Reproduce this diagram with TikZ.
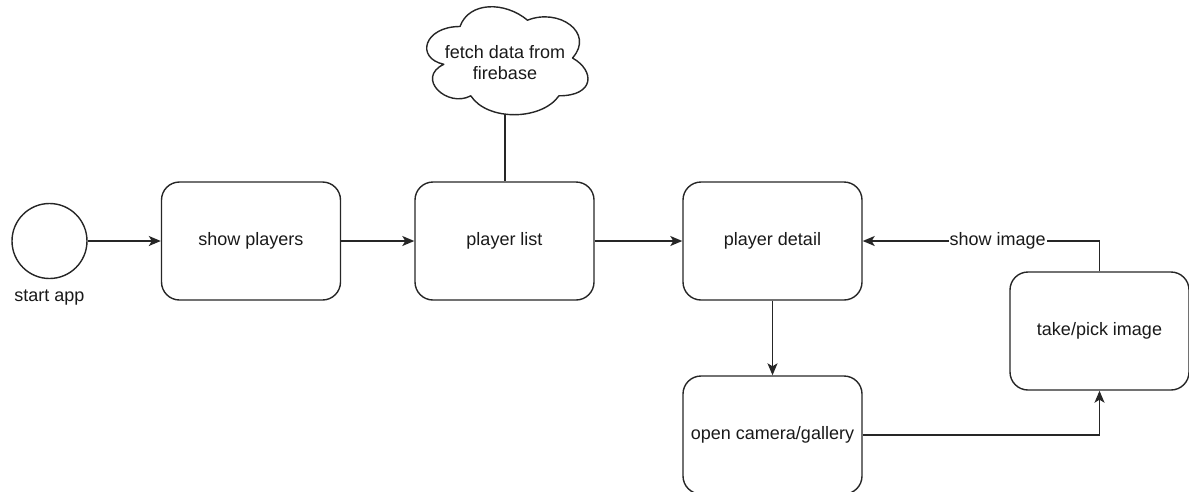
\documentclass[tikz,border=0pt]{standalone}
\usepackage{fontspec}
\setmainfont{Liberation Sans}
\usetikzlibrary{arrows.meta}
\begin{document}
\begin{tikzpicture}[x=1pt,y=-1pt,
  every node/.style={font=\fontsize{18}{21}\selectfont, text=black!90},
  stepbox/.style={draw=black!85, line width=1.4pt, rounded corners=18pt,
    minimum width=179pt, minimum height=118pt, inner sep=0pt},
  flow/.style={draw=black!85, line width=1.4pt,
    -{Stealth[length=12pt,width=10pt,inset=3pt]}},
  link/.style={draw=black!85, line width=1.4pt}]
\useasboundingbox (0,0) rectangle (1189,491);

% start event
\node[circle, draw=black!85, line width=1.4pt, minimum size=75pt, inner sep=0pt] (start) at (49.5,241) {};
\node (startlbl) at (49.5,298) {start app};

% process steps
\node[stepbox] (show)   at (251,241)   {show players};
\node[stepbox] (list)   at (504.5,241) {player list};
\node[stepbox] (detail) at (772.5,241) {player detail};
\node[stepbox] (camera) at (772.5,435) {open camera/gallery};
\node[stepbox] (pick)   at (1099.5,331) {take/pick image};

% data source: cloud outline in a 180 x 126 frame
\begin{scope}[shift={(415,-5)}, x=180pt, y=-126pt]
  \draw[link, line join=round] (0.25,0.25)
    .. controls (0.05,0.25) and (0,0.5) .. (0.16,0.55)
    .. controls (0,0.66) and (0.18,0.9) .. (0.31,0.8)
    .. controls (0.4,1) and (0.7,1) .. (0.8,0.8)
    .. controls (1,0.8) and (1,0.6) .. (0.875,0.5)
    .. controls (1,0.3) and (0.8,0.1) .. (0.625,0.2)
    .. controls (0.5,0.05) and (0.3,0.05) .. (0.25,0.25) -- cycle;
  \coordinate (firebottom) at (0.5,0.944);
\end{scope}
\node[align=center, inner sep=0pt] (fire) at (505,63) {fetch data from\\firebase};

% connectors
\draw[flow] (start) -- (show);
\draw[flow] (show) -- (list);
\draw[flow] (list) -- (detail);
\draw[flow] (detail) -- (camera);
\draw[link] (firebottom) -- (firebottom |- list.north);
\draw[flow] (camera.east) -| (pick.south);
\coordinate (turn) at (pick.north |- detail.east);
\draw[flow] (pick.north) -- (turn) -- (detail.east)
  node[pos=0.43, fill=white, inner sep=1pt] (showimg) {show image};
\end{tikzpicture}
\end{document}
